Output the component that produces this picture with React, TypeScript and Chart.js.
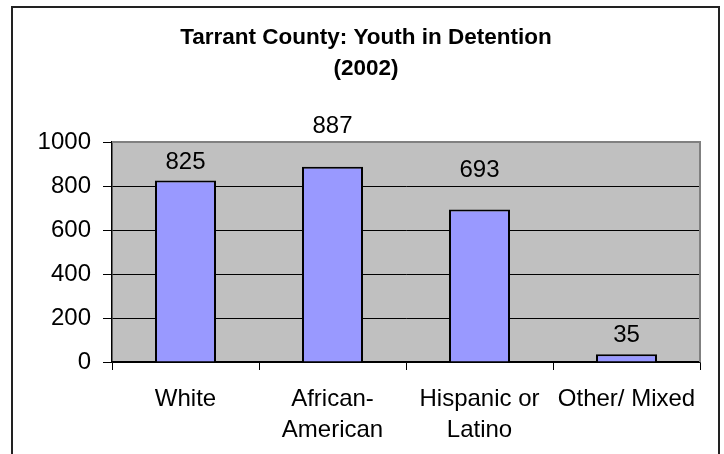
import React, { useEffect, useRef } from "react";
import { Chart, registerables } from "chart.js";

Chart.register(...registerables);

const titleLines = ["Tarrant County: Youth in Detention", "(2002)"];
const categories: (string | string[])[] = [
  "White",
  ["African-", "American"],
  ["Hispanic or", "Latino"],
  "Other/ Mixed",
];
const values = [825, 887, 693, 35];
const yMin = 0;
const yMax = 1000;
const yStep = 200;

const FONT = '"Liberation Sans", Arial, Helvetica, sans-serif';

const decorPlugin = {
  id: "decor",
  beforeDraw(chart: any) {
    const { ctx, chartArea } = chart;
    ctx.save();
    ctx.fillStyle = "#ffffff";
    ctx.fillRect(0, 0, chart.width, chart.height);
    ctx.fillStyle = "#C0C0C0";
    ctx.fillRect(chartArea.left, chartArea.top, chartArea.right - chartArea.left, chartArea.bottom - chartArea.top);
    ctx.restore();
  },
  beforeDatasetsDraw(chart: any) {
    const { ctx, chartArea } = chart;
    ctx.save();
    ctx.strokeStyle = "#808080";
    ctx.lineWidth = 2;
    ctx.beginPath();
    ctx.moveTo(chartArea.left, chartArea.top);
    ctx.lineTo(chartArea.right, chartArea.top);
    ctx.lineTo(chartArea.right, chartArea.bottom);
    ctx.stroke();
    ctx.restore();
  },
  afterDatasetsDraw(chart: any) {
    const { ctx } = chart;
    const meta = chart.getDatasetMeta(0);
    const yScale = chart.scales.y;
    const gridYs = yScale.ticks.map((t: any) => yScale.getPixelForValue(t.value));
    ctx.save();
    ctx.font = `24px ${FONT}`;
    ctx.fillStyle = "#000";
    ctx.textAlign = "center";
    ctx.textBaseline = "alphabetic";
    meta.data.forEach((bar: any, i: number) => {
      let base = bar.y - 12;
      for (let k = 0; k < 5; k++) {
        const top = base - 17;
        const hit = gridYs.find((g: number) => g >= top - 1 && g <= base + 3);
        if (hit === undefined) break;
        base = hit - 9;
      }
      ctx.fillText(String(values[i]), bar.x, base);
    });
    ctx.restore();
  },
  afterDraw(chart: any) {
    const { ctx } = chart;
    ctx.save();
    ctx.font = `bold 22.5px ${FONT}`;
    ctx.fillStyle = "#000";
    ctx.textAlign = "center";
    ctx.textBaseline = "alphabetic";
    ctx.fillText(titleLines[0], 366, 44);
    ctx.fillText(titleLines[1], 366, 75);
    ctx.strokeStyle = "#222";
    ctx.lineWidth = 2;
    ctx.strokeRect(12, 7, 707, 470);
    ctx.restore();
  },
};

export default function App() {
  const ref = useRef<HTMLCanvasElement>(null);
  useEffect(() => {
    if (!ref.current) return;
    const chart = new Chart(ref.current, {
      type: "bar",
      data: {
        labels: categories,
        datasets: [
          {
            data: values,
            backgroundColor: "#9999FF",
            borderColor: "#000000",
            borderWidth: 2,
            categoryPercentage: 1,
            barPercentage: 0.415,
          },
        ],
      },
      options: {
        animation: false,
        responsive: false,
        devicePixelRatio: 1,
        layout: { padding: { top: 142, right: 24, left: 0, bottom: 0 } },
        plugins: {
          legend: { display: false },
          title: { display: false },
          tooltip: { enabled: false },
        },
        scales: {
          x: {
            afterFit(scale: any) {
              scale.height = 92;
            },
            grid: {
              display: true,
              offset: true,
              drawOnChartArea: false,
              drawTicks: true,
              tickLength: 8,
              color: "#000",
              lineWidth: 1,
            },
            border: { display: true, color: "#000", width: 1.5 },
            ticks: {
              autoSkip: false,
              maxRotation: 0,
              minRotation: 0,
              color: "#000",
              padding: 14,
              font: { family: FONT, size: 24, lineHeight: 1.3 },
            },
          },
          y: {
            min: yMin,
            max: yMax,
            afterFit(scale: any) {
              scale.width = 112;
            },
            grid: {
              display: true,
              drawOnChartArea: true,
              drawTicks: true,
              tickLength: 9,
              color: "#000",
              lineWidth: 1,
            },
            border: { display: true, color: "#000", width: 1.5 },
            ticks: {
              stepSize: yStep,
              color: "#000",
              padding: 12,
              font: { family: FONT, size: 24 },
              callback: (v: any) => String(v),
            },
          },
        },
      },
      plugins: [decorPlugin],
    });
    return () => chart.destroy();
  }, []);
  return (
    <div style={{ position: "fixed", left: 0, top: 0, width: 724, height: 454, background: "#fff" }}>
      <canvas ref={ref} width={724} height={454} style={{ width: 724, height: 454, display: "block" }} />
    </div>
  );
}
